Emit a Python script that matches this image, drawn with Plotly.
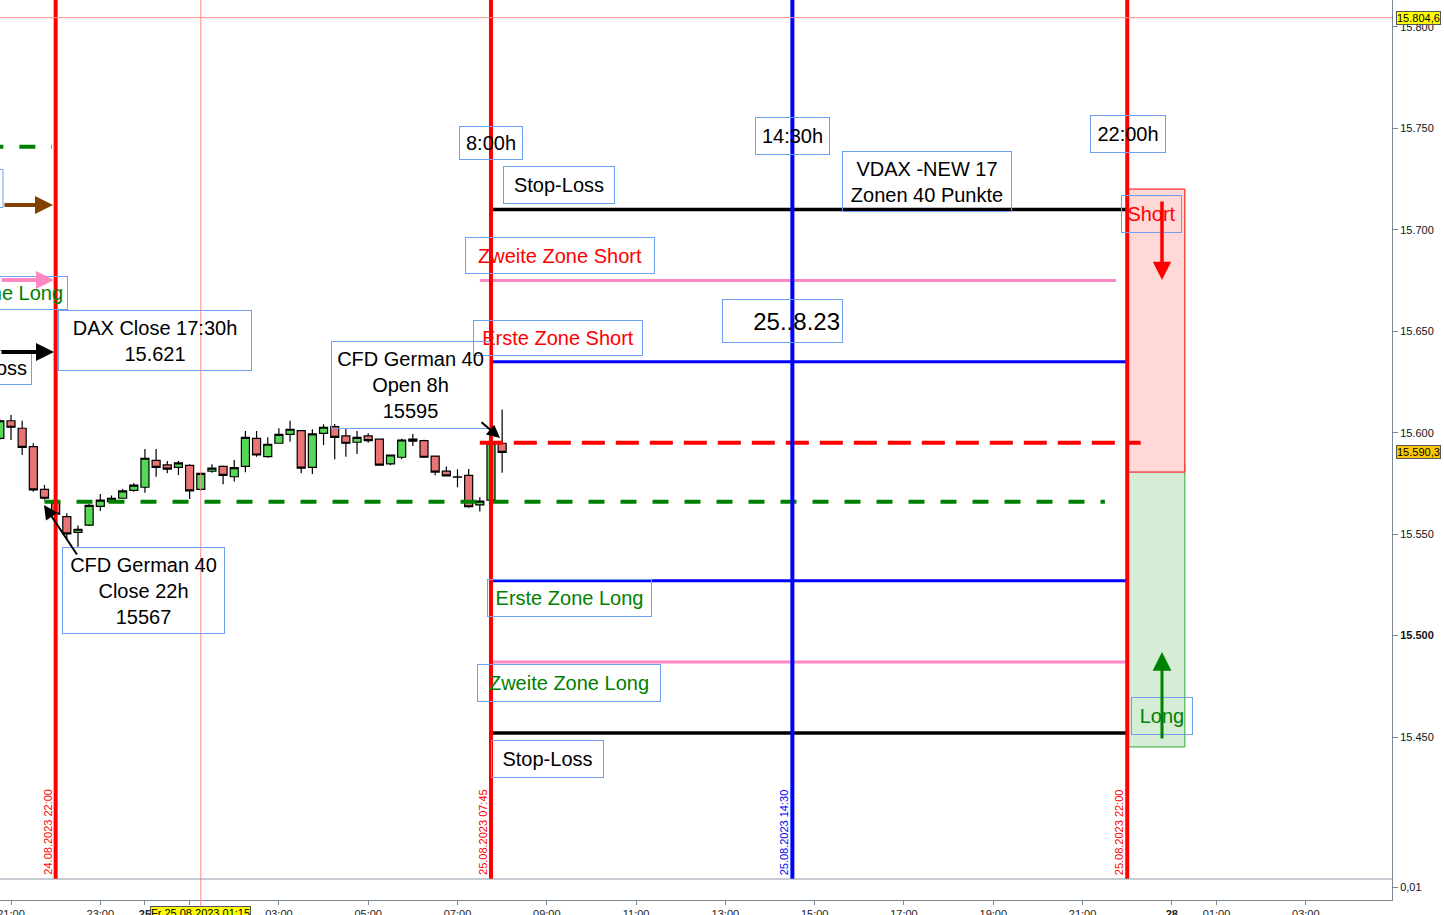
import plotly.graph_objects as go
import pandas as pd

# ---------------- data ----------------
times = [
    "24.08.2023 20:45", "24.08.2023 21:00", "24.08.2023 21:15", "24.08.2023 21:30",
    "24.08.2023 21:45", "24.08.2023 22:00", "24.08.2023 22:15", "24.08.2023 22:30",
    "24.08.2023 22:45", "24.08.2023 23:00", "24.08.2023 23:15", "24.08.2023 23:30",
    "24.08.2023 23:45", "25.08.2023 00:00", "25.08.2023 00:15", "25.08.2023 00:30",
    "25.08.2023 00:45", "25.08.2023 01:00", "25.08.2023 01:15", "25.08.2023 01:30",
    "25.08.2023 01:45", "25.08.2023 02:00", "25.08.2023 02:15", "25.08.2023 02:30",
    "25.08.2023 02:45", "25.08.2023 03:00", "25.08.2023 03:15", "25.08.2023 03:30",
    "25.08.2023 03:45", "25.08.2023 04:00", "25.08.2023 04:15", "25.08.2023 04:30",
    "25.08.2023 04:45", "25.08.2023 05:00", "25.08.2023 05:15", "25.08.2023 05:30",
    "25.08.2023 05:45", "25.08.2023 06:00", "25.08.2023 06:15", "25.08.2023 06:30",
    "25.08.2023 06:45", "25.08.2023 07:00", "25.08.2023 07:15", "25.08.2023 07:30",
    "25.08.2023 07:45", "25.08.2023 08:00",
]
opens = [15597.2, 15605.9, 15602.2, 15593.1, 15572.1, 15565.5, 15558.6, 15550.9,
         15554.4, 15563.7, 15566.0, 15567.7, 15571.6, 15573.1, 15586.4, 15584.1,
         15582.9, 15583.9, 15572.1, 15581.0, 15583.4, 15578.3, 15583.4, 15597.2,
         15588.2, 15594.8, 15599.2, 15601.0, 15582.9, 15599.7, 15603.0, 15598.4,
         15595.3, 15598.4, 15596.8, 15584.6, 15587.9, 15596.8, 15596.1, 15588.5,
         15581.1, 15578.2, 15579.0, 15564.4, 15566.8, 15594.8]
highs = [15606.5, 15608.7, 15605.9, 15594.8, 15574.2, 15566.5, 15560.3, 15554.2,
         15565.0, 15569.8, 15569.0, 15572.3, 15575.1, 15592.0, 15592.0, 15586.1,
         15586.1, 15584.5, 15580.5, 15584.4, 15583.8, 15586.6, 15600.8, 15600.8,
         15597.7, 15602.2, 15605.9, 15601.2, 15601.7, 15604.2, 15604.3, 15601.8,
         15600.8, 15599.7, 15597.0, 15589.3, 15597.0, 15599.4, 15596.5, 15588.8,
         15583.3, 15582.0, 15582.1, 15568.2, 15595.0, 15611.5]
lows = [15596.5, 15596.4, 15589.0, 15570.9, 15567.0, 15559.0, 15547.1, 15543.8,
        15554.0, 15561.4, 15565.5, 15567.5, 15570.9, 15570.4, 15578.3, 15580.0,
        15579.2, 15567.3, 15571.5, 15580.3, 15574.6, 15575.9, 15580.5, 15588.2,
        15587.7, 15594.5, 15595.6, 15580.0, 15579.6, 15593.9, 15586.9, 15588.2,
        15589.5, 15595.1, 15583.8, 15584.0, 15587.0, 15593.5, 15587.5, 15579.0,
        15578.5, 15573.1, 15563.0, 15561.1, 15566.5, 15580.3]
closes = [15605.9, 15602.7, 15592.8, 15571.8, 15567.7, 15559.9, 15550.1, 15552.4,
          15564.2, 15566.8, 15567.7, 15571.3, 15574.2, 15587.4, 15582.9, 15582.0,
          15585.1, 15571.3, 15580.0, 15582.5, 15579.0, 15582.8, 15597.7, 15589.0,
          15594.3, 15599.2, 15601.7, 15582.5, 15599.4, 15602.7, 15597.7, 15594.8,
          15597.7, 15596.1, 15584.0, 15589.0, 15596.4, 15595.8, 15587.9, 15580.6,
          15578.7, 15578.1, 15563.5, 15566.3, 15594.8, 15590.3]

# x axis ticks (trading hours since 24.08.2023 21:00, weekend compressed)
tick_hours = [0, 2, 3, 4, 6, 8, 10, 12, 14, 16, 18, 20, 22, 24, 26, 27, 29]
tick_labels = ["21:00", "23:00", "<b>25</b>", "01:00", "03:00", "05:00", "07:00",
               "09:00", "11:00", "13:00", "15:00", "17:00", "19:00", "21:00",
               "<b>28</b>", "01:00", "03:00"]

y_tick_vals = [15450, 15500, 15550, 15600, 15650, 15700, 15750, 15800]
y_tick_text = ["15.450", "<b>15.500</b>", "15.550", "15.600", "15.650", "15.700",
               "15.750", "15.800"]

# vertical event lines
event_times = ["24.08.2023 22:00", "25.08.2023 07:45", "25.08.2023 14:30", "25.08.2023 22:00"]
event_colors = ["#ff0000", "#ff0000", "#0000ff", "#ff0000"]

# levels
stop_short = 15710
zone2_short = 15675
zone1_short = 15635
open_8h = 15595
close_22h = 15566
zone1_long = 15527
zone2_long = 15487
stop_long = 15452
prev_green = 15741
prev_brown = 15712
prev_pink = 15675
prev_black = 15640
short_box = (15580.6, 15720.1)
long_box = (15445.1, 15584.6)
cross_time = "25.08.2023 01:15"
cross_price = 15804.6
last_price = 15590.3

# ---------------- helpers ----------------
BASE = pd.Timestamp("2023-08-24 21:00")


def hrs(s):
    return (pd.to_datetime(s, format="%d.%m.%Y %H:%M") - BASE).total_seconds() / 3600.0


x_c = [hrs(t) for t in times]

PW, PH = 1392.0, 900.0
MAIN_BOTTOM = 21.0 / 900.0
XR = [-0.2464, 30.93]
YR = [15380.0, 15813.3]
FONT = "Liberation Sans, Arial, sans-serif"


def px(x):
    return x / PW


def py(y):
    return 1 - y / PH


fig = go.Figure()
fig.add_trace(go.Candlestick(
    x=x_c, open=opens, high=highs, low=lows, close=closes,
    increasing=dict(fillcolor="#55d855", line=dict(color="#000000", width=1.2)),
    decreasing=dict(fillcolor="#e87474", line=dict(color="#000000", width=1.2)),
    whiskerwidth=0, showlegend=False, hoverinfo="skip",
))
# empty lower pane trace
fig.add_trace(go.Scatter(x=[XR[0]], y=[0.0], yaxis="y2", mode="markers",
                         marker=dict(opacity=0), showlegend=False, hoverinfo="skip"))

shapes = []


def hline(y, x0, x1, color, width, dash="solid"):
    shapes.append(dict(type="line", xref="x", yref="y", x0=x0, x1=x1, y0=y, y1=y,
                       line=dict(color=color, width=width, dash=dash)))


# zone rectangles on the right
t22 = hrs("25.08.2023 22:00")
shapes.append(dict(type="rect", xref="x", yref="y", x0=t22, x1=t22 + 1.29,
                   y0=long_box[0], y1=long_box[1], fillcolor="#d5edd5",
                   line=dict(color="#33aa33", width=1), layer="above"))
shapes.append(dict(type="rect", xref="x", yref="y", x0=t22, x1=t22 + 1.29,
                   y0=short_box[0], y1=short_box[1], fillcolor="#ffd8d8",
                   line=dict(color="#ff0000", width=1), layer="above"))

# previous-day objects on the left
hline(prev_green, XR[0] - 1, hrs("24.08.2023 21:55"), "#008000", 4, "16px,16px")
shapes.append(dict(type="rect", xref="x", yref="y", x0=XR[0] - 5, x1=XR[0] + 3 / 44.65,
                   y0=15711.0, y1=15729.8, line=dict(color="#6f9ff0", width=1)))

# current-day zone lines
t0745 = hrs("25.08.2023 07:45")
hline(stop_short, t0745, t22, "#000000", 3.5)
hline(zone2_short, hrs("25.08.2023 07:30"), hrs("25.08.2023 21:45"), "#ff88c4", 3)
hline(zone1_short, t0745, t22, "#0000ff", 3)
hline(open_8h, hrs("25.08.2023 07:30"), hrs("25.08.2023 22:18"), "#ff0000", 4, "23px,11px")
hline(close_22h, hrs("24.08.2023 21:45"), hrs("25.08.2023 21:30"), "#008000", 4, "16px,16px")
hline(zone1_long, t0745, t22, "#0000ff", 3)
hline(zone2_long, t0745, t22, "#ff88c4", 3)
hline(stop_long, t0745, t22, "#000000", 3.5)

# vertical event lines
for t, c in zip(event_times, event_colors):
    shapes.append(dict(type="line", xref="x", yref="y", x0=hrs(t), x1=hrs(t),
                       y0=YR[0], y1=YR[1], line=dict(color=c, width=4)))

# crosshair
shapes.append(dict(type="line", xref="x", yref="y", x0=XR[0], x1=XR[1],
                   y0=cross_price, y1=cross_price, line=dict(color="#ff8c8c", width=1)))
cx_pix = (hrs(cross_time) - XR[0]) / (XR[1] - XR[0])
shapes.append(dict(type="line", xref="paper", yref="paper", x0=cx_pix, x1=cx_pix,
                   y0=-0.03, y1=1, line=dict(color="#ff8c8c", width=1)))
# separator of the lower pane
shapes.append(dict(type="line", xref="paper", yref="paper", x0=0, x1=1,
                   y0=MAIN_BOTTOM, y1=MAIN_BOTTOM, line=dict(color="#8a97a3", width=1)))

annotations = []


def box(text, cx, cy, w, h, color="#000000", size=20, align="center", pad=2):
    annotations.append(dict(
        text=text, x=px(cx), y=py(cy), xref="paper", yref="paper",
        xanchor="center", yanchor="middle", showarrow=False,
        font=dict(family=FONT, size=size, color=color), align=align,
        bordercolor="#6f9ff0", borderwidth=1, borderpad=pad,
        width=w - 2 * pad - 2, height=h - 2 * pad - 2))


box("8:00h", 491, 143, 64, 34)
box("14:30h", 792.5, 136, 75, 38)
box("22:00h", 1128, 134, 76, 38)
box("Stop-Loss", 559, 185, 112, 38)
box("VDAX -NEW 17<br>Zonen 40 Punkte", 927, 181.5, 170, 61, pad=1)
box("Zweite Zone Short", 560, 255.5, 190, 37, "#ff0000")
box("25..8.23", 782.5, 321, 121, 44, size=24, align="right")
box("Erste Zone Short", 558, 338, 170, 36, "#ff0000")
box("DAX Close 17:30h<br>15.621", 155, 340.5, 194, 61)
box("CFD German 40<br>Open 8h<br>15595", 410.5, 385, 159, 88)
box("CFD German 40<br>Close 22h<br>15567", 143.5, 590.5, 163, 87)
box("Erste Zone Long", 569.5, 598, 165, 38, "#008000")
box("Zweite Zone Long", 569, 683, 184, 38, "#008000")
box("Stop-Loss", 547.5, 759, 113, 38)
box("Short", 1151.5, 214, 61, 38, "#ff0000")
box("Long", 1162, 716, 62, 38, "#008000")

# partially visible boxes on the left edge
for text, right, cy, h, color in [("Zweite Zone Long", 68, 293, 34, "#008000"),
                                  ("Stop-Loss", 32, 367.5, 35, "#000000")]:
    annotations.append(dict(
        text=text, x=px(right), y=py(cy), xref="paper", yref="paper",
        xanchor="right", yanchor="middle", showarrow=False,
        font=dict(family=FONT, size=20, color=color),
        bordercolor="#6f9ff0", borderwidth=1, borderpad=4, height=h - 10))


def arrow(tipx, tipy, tailx, taily, color, width, size):
    annotations.append(dict(
        text="", x=px(tipx), y=py(tipy), xref="paper", yref="paper",
        ax=tailx - tipx, ay=taily - tipy, showarrow=True, arrowhead=2,
        arrowsize=size, arrowwidth=width, arrowcolor=color, standoff=0))


arrow(53, 205, 3, 205, "#804000", 4, 0.9)
arrow(54, 280, -5, 280, "#ff88c4", 4, 0.9)
arrow(54, 352, -5, 352, "#000000", 4, 0.9)
arrow(44, 505, 78, 556, "#000000", 2, 1.4)
arrow(500, 438, 480, 421, "#000000", 2, 1.3)
arrow(1162, 280, 1162, 200, "#ff0000", 3.5, 1.05)
arrow(1162, 652, 1162, 740, "#008000", 3, 1.25)

# rotated date labels at the bottom of the event lines
for t, c in zip(event_times, event_colors):
    annotations.append(dict(
        text=t, x=hrs(t), xref="x", xshift=-8, y=MAIN_BOTTOM, yref="paper",
        yshift=2, xanchor="center", yanchor="bottom", textangle=-90,
        showarrow=False, font=dict(family=FONT, size=11, color=c)))

# price / time labels on the axes
annotations.append(dict(text="15.804,6", x=1.0029, y=py(18), xref="paper", yref="paper",
                        xanchor="left", yanchor="middle", showarrow=False,
                        bgcolor="#ffff00", bordercolor="#555555", borderwidth=1, borderpad=0,
                        font=dict(family=FONT, size=11, color="#000000")))
annotations.append(dict(text="15.590,3", x=1.0029, y=(last_price - YR[0]) / (YR[1] - YR[0]) * (1 - MAIN_BOTTOM) + MAIN_BOTTOM,
                        xref="paper", yref="paper",
                        xanchor="left", yanchor="middle", showarrow=False,
                        bgcolor="#ffc800", bordercolor="#555555", borderwidth=1, borderpad=0,
                        font=dict(family=FONT, size=11, color="#000000")))
annotations.append(dict(text="Fr 25.08.2023 01:15", x=cx_pix, y=py(906), xref="paper", yref="paper",
                        xanchor="center", yanchor="top", showarrow=False,
                        bgcolor="#ffff00", bordercolor="#555555", borderwidth=1, borderpad=0,
                        font=dict(family=FONT, size=11, color="#000000")))

AXC = "#7a8896"
fig.update_layout(
    template="none",
    width=1444, height=915,
    margin=dict(l=0, r=52, t=0, b=15, autoexpand=False),
    paper_bgcolor="white", plot_bgcolor="white",
    showlegend=False,
    boxgap=0.28, boxgroupgap=0,
    font=dict(family=FONT, size=11, color="#000000"),
    xaxis=dict(range=XR, anchor="y2", showgrid=False, zeroline=False, automargin=False,
               showline=True, linecolor=AXC, linewidth=1,
               ticks="outside", ticklen=4, tickcolor=AXC,
               tickvals=tick_hours, ticktext=tick_labels,
               tickfont=dict(family=FONT, size=11, color="#222222"),
               ticklabeloverflow="allow",
               rangeslider=dict(visible=False)),
    yaxis=dict(range=YR, domain=[MAIN_BOTTOM, 1], side="right", anchor="x",
               showgrid=False, zeroline=False, showline=True, linecolor=AXC, automargin=False,
               ticks="outside", ticklen=5, tickcolor=AXC,
               tickvals=y_tick_vals, ticktext=y_tick_text,
               ticklabeloverflow="allow",
               tickfont=dict(family=FONT, size=11, color="#111111")),
    yaxis2=dict(range=[0, 0.0162], domain=[0, MAIN_BOTTOM], side="right", anchor="x",
                showgrid=False, zeroline=False, showline=True, linecolor=AXC, automargin=False,
                ticks="outside", ticklen=5, tickcolor=AXC,
                tickvals=[0.01], ticktext=["0,01"],
                tickfont=dict(family=FONT, size=11, color="#111111")),
    shapes=shapes,
    annotations=annotations,
)

fig.write_html("out.html", config={"displayModeBar": False},
               post_script="document.body.style.margin='0px';document.body.style.overflow='hidden';")
